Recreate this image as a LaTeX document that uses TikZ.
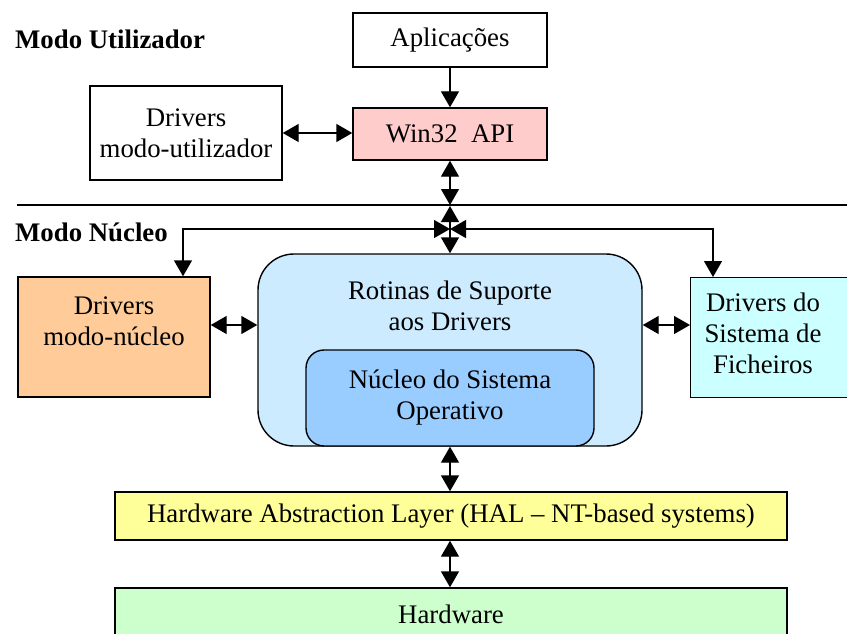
\documentclass[tikz,border=0pt]{standalone}
\usepackage{fontspec}
\setmainfont{Liberation Serif}
\usetikzlibrary{arrows.meta}
\definecolor{cpink}{HTML}{FFCCCC}
\definecolor{corange}{HTML}{FFCC99}
\definecolor{cblueL}{HTML}{CCEBFF}
\definecolor{cblueD}{HTML}{99CCFF}
\definecolor{ccyan}{HTML}{CCFFFF}
\definecolor{cyellow}{HTML}{FFFF99}
\definecolor{cgreen}{HTML}{CCFFCC}
\begin{document}
\begin{tikzpicture}[x=1pt,y=-1pt,
  box/.style={draw,line width=1.4pt,inner sep=0pt,align=center,font=\fontsize{26.8}{31}\selectfont},
  txt/.style={inner sep=0pt,align=center,font=\fontsize{26.8}{31}\selectfont},
  lbl/.style={inner sep=0pt,anchor=base west,font=\fontsize{26.8}{31}\selectfont\bfseries},
  tipA/.tip={Triangle[length=16pt,width=18pt]},
  arr/.style={line width=1.4pt,-tipA},
  darr/.style={line width=1.4pt,tipA-tipA},
]
\clip (0,0) rectangle (847,634);
\useasboundingbox (0,0) rectangle (847,634);

% labels
\node[lbl] (mu) at (15,49) {Modo Utilizador};
\node[lbl] (mn) at (15,241) {Modo Núcleo};

% separator
\coordinate (sepL) at (17,205);
\coordinate (sepR) at (847,205);
\draw[line width=1.4pt] (sepL) -- (sepR);

% user mode boxes
\node[box,minimum width=194pt,minimum height=54pt] (app) at (450,40) {Aplicações};
\node[box,fill=cpink,minimum width=194pt,minimum height=52pt] (win) at (450,134) {Win32\ \ API};
\node[box,minimum width=192pt,minimum height=94pt] (dmu) at (186,133) {Drivers\\modo-utilizador};

% kernel mode boxes
\node[box,fill=corange,minimum width=192pt,minimum height=120pt] (dmn) at (114,337) {};
\node[txt] (dmnt) at (114,321) {Drivers\\modo-núcleo};

\node[box,fill=cblueL,rounded corners=36pt,minimum width=384pt,minimum height=192pt] (rot) at (450,350) {};
\node[txt] (rott) at (450,306) {Rotinas de Suporte\\aos Drivers};
\node[box,fill=cblueD,rounded corners=18pt,minimum width=288pt,minimum height=96pt] (nuc) at (450,398) {Núcleo do Sistema\\Operativo};

\node[box,fill=ccyan,minimum width=200pt,minimum height=120pt,anchor=north west] (fs) at (690,277) {};
\node[txt] (fst) at (763,333) {Drivers do\\Sistema de\\Ficheiros};

\node[box,fill=cyellow,minimum width=672pt,minimum height=48pt] (hal) at (451,516) {Hardware Abstraction Layer (HAL – NT-based systems)};
\node[box,fill=cgreen,minimum width=672pt,minimum height=52pt] (hw) at (451,614) {Hardware};

% connectors
\draw[arr] (app) -- (win);
\draw[darr] (dmu.east) -- (dmu.east -| win.west);
\coordinate (s1) at (450,205);
\coordinate (s2) at (450,206);
\coordinate (j) at (450,229);
\draw[darr] (win.south) -- (s1);
\draw[darr] (s2) -- (rot.north);
\draw[line width=1.4pt,tipA-tipA] (j) -| (dmn.north -| 183,0);
\draw[line width=1.4pt,tipA-tipA] (j) -| (fs.north -| 713,0);
\draw[darr] (dmn.east |- 0,325) -- (rot.west |- 0,325);
\draw[darr] (rot.east |- 0,325) -- (fs.west |- 0,325);
\draw[darr] (rot.south) -- (rot.south |- hal.north);
\draw[darr] (hal.south -| rot.south) -- (hw.north -| rot.south);
\end{tikzpicture}
\end{document}
